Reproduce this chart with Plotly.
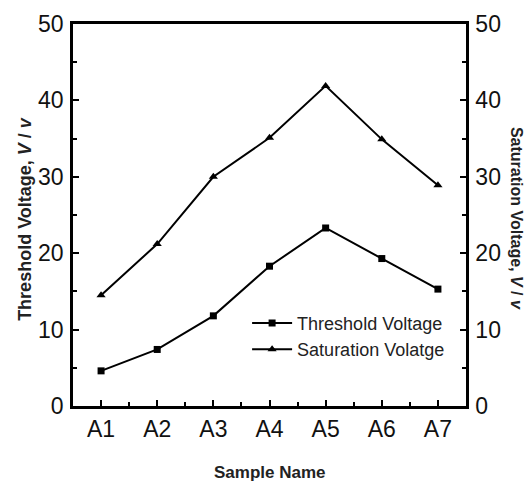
import plotly.graph_objects as go

categories = ["A1", "A2", "A3", "A4", "A5", "A6", "A7"]
threshold = [4.6, 7.4, 11.8, 18.3, 23.3, 19.3, 15.3]
saturation = [14.5, 21.2, 30.0, 35.1, 41.9, 34.9, 28.9]
y_ticks = [0, 10, 20, 30, 40, 50]

xpos = list(range(1, len(categories) + 1))
FONT = "Liberation Sans, Arial, sans-serif"

fig = go.Figure()
fig.add_trace(go.Scatter(
    x=xpos, y=threshold, name="Threshold Voltage", mode="lines+markers",
    line=dict(color="black", width=2),
    marker=dict(symbol="square", size=7, color="black"),
))
fig.add_trace(go.Scatter(
    x=xpos, y=saturation, name="Saturation Volatge", mode="lines+markers",
    line=dict(color="black", width=2),
    marker=dict(symbol="triangle-up", size=8, color="black"),
    yaxis="y2",
))

axis_common = dict(
    showgrid=False, zeroline=False, showline=True, linecolor="black", linewidth=2.5,
    ticks="inside", ticklen=6, tickwidth=2, tickcolor="black",
    tickfont=dict(family=FONT, size=23, color="#111"),
)

fig.update_layout(
    width=526, height=484,
    margin=dict(l=73, r=60, t=24, b=78),
    paper_bgcolor="white", plot_bgcolor="white",
    showlegend=True,
    legend=dict(
        x=0.443, y=0.265, xanchor="left", yanchor="top",
        bgcolor="rgba(0,0,0,0)", font=dict(family=FONT, size=18, color="#222"),
        tracegroupgap=0, itemwidth=40,
    ),
    xaxis=dict(
        **axis_common, range=[0.5, 7.5], tickvals=xpos, ticktext=categories,
        mirror=True, ticklabelstandoff=1,
        minor=dict(ticks="inside", ticklen=4, tickwidth=2, tickcolor="black", dtick=0.5, tick0=0.5),
    ),
    yaxis=dict(
        **axis_common, range=[0, 50], tickvals=y_ticks, ticklabelstandoff=2,
        minor=dict(ticks="inside", ticklen=4, tickwidth=2, tickcolor="black", dtick=5, tick0=0),
    ),
    yaxis2=dict(
        **axis_common, range=[0, 50], tickvals=y_ticks, overlaying="y", side="right",
        ticklabelstandoff=2,
        minor=dict(ticks="inside", ticklen=4, tickwidth=2, tickcolor="black", dtick=5, tick0=0),
    ),
    annotations=[
        dict(text="<b>Threshold Voltage, <i>V</i> / <i>v</i></b>", xref="paper", yref="paper",
             x=-0.122, y=0.49, xanchor="center", yanchor="middle", textangle=-90, showarrow=False,
             font=dict(family=FONT, size=18, color="#222")),
        dict(text="<b>Saturation Voltage, <i>V</i> / <i>v</i></b>", xref="paper", yref="paper",
             x=1.127, y=0.49, xanchor="center", yanchor="middle", textangle=90, showarrow=False,
             font=dict(family=FONT, size=16, color="#222")),
        dict(text="<b>Sample Name</b>", xref="paper", yref="paper",
             x=0.5, y=-0.175, xanchor="center", yanchor="middle", showarrow=False,
             font=dict(family=FONT, size=17, color="#222")),
    ],
)

fig.write_html("out.html")
